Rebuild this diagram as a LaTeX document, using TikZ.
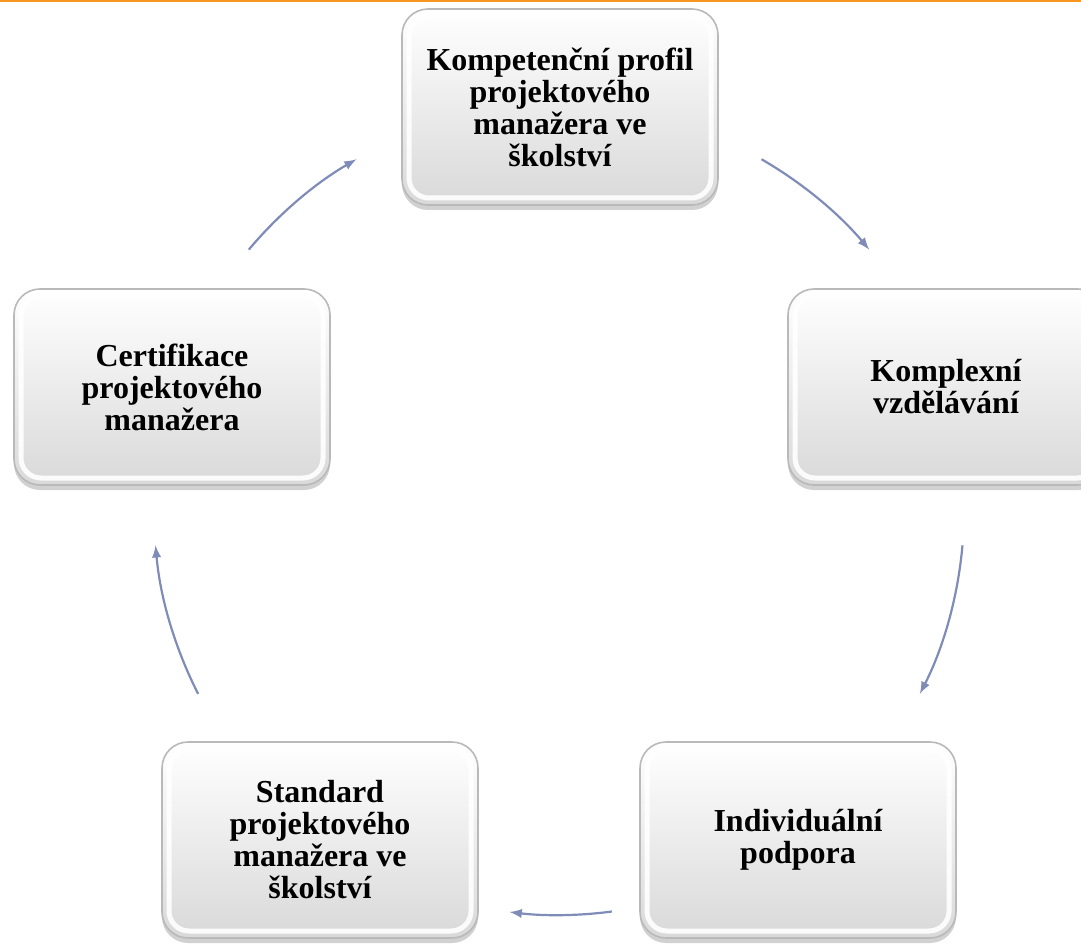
\documentclass[tikz,border=0pt]{standalone}
\usepackage{fontspec}
\setmainfont{Liberation Serif}
\usepackage{tikz}
\usetikzlibrary{shapes,arrows,positioning,calc,shadows,arrows.meta}
\definecolor{cyclearrow}{RGB}{128,140,184}
\definecolor{topline}{RGB}{247,150,30}

\begin{document}
\begin{tikzpicture}[x=0.5pt, y=0.5pt, >=latex,
    box/.style={rectangle, rounded corners=13pt, minimum width=158pt, minimum height=98pt,
        draw=gray!55, line width=0.8pt, top color=white, bottom color=gray!30,
        drop shadow={shadow xshift=0pt, shadow yshift=-2.5pt, opacity=0.45, fill=gray!80},
        path picture={\draw[white, line width=2.5pt, opacity=0.9, rounded corners=10pt]
            ([shift={(3.5pt,3.5pt)}]path picture bounding box.south west) rectangle
            ([shift={(-3.5pt,-3.5pt)}]path picture bounding box.north east);},
        align=center, font=\fontsize{16pt}{16pt}\selectfont\bfseries, text=black},
    cyc/.style={->, draw=cyclearrow, line width=1.1pt}]
    \clip (0,0) rectangle (1081,944);
    \fill[topline] (0,941.5) rectangle (1081,944);

    \node [box] (profil) at (560,837) {Kompetenční profil\\projektového\\manažera ve\\školství};
    \node [box] (vzdelavani) at (946,557) {Komplexní\\vzdělávání};
    \node [box] (podpora) at (798,104) {Individuální\\podpora};
    \node [box] (standard) at (320,104) {Standard\\projektového\\manažera ve\\školství};
    \node [box] (certifikace) at (172,557) {Certifikace\\projektového\\manažera};

    % arrows around the cycle
    \coordinate (ctr) at (559,434);
    \coordinate (a1) at ($(ctr)+(140:405)$);
    \coordinate (a2) at ($(ctr)+(60:405)$);
    \coordinate (a3) at ($(ctr)+(-5:405)$);
    \coordinate (a4) at ($(ctr)+(-82.5:405)$);
    \coordinate (a5) at ($(ctr)+(207:405)$);

    \draw [cyc] (a1) arc[start angle=140, end angle=120, radius=405];
    \draw [cyc] (a2) arc[start angle=60, end angle=40, radius=405];
    \draw [cyc] (a3) arc[start angle=-5, end angle=-27, radius=405];
    \draw [cyc] (a4) arc[start angle=-82.5, end angle=-97, radius=405];
    \draw [cyc] (a5) arc[start angle=207, end angle=185, radius=405];
\end{tikzpicture}
\end{document}
